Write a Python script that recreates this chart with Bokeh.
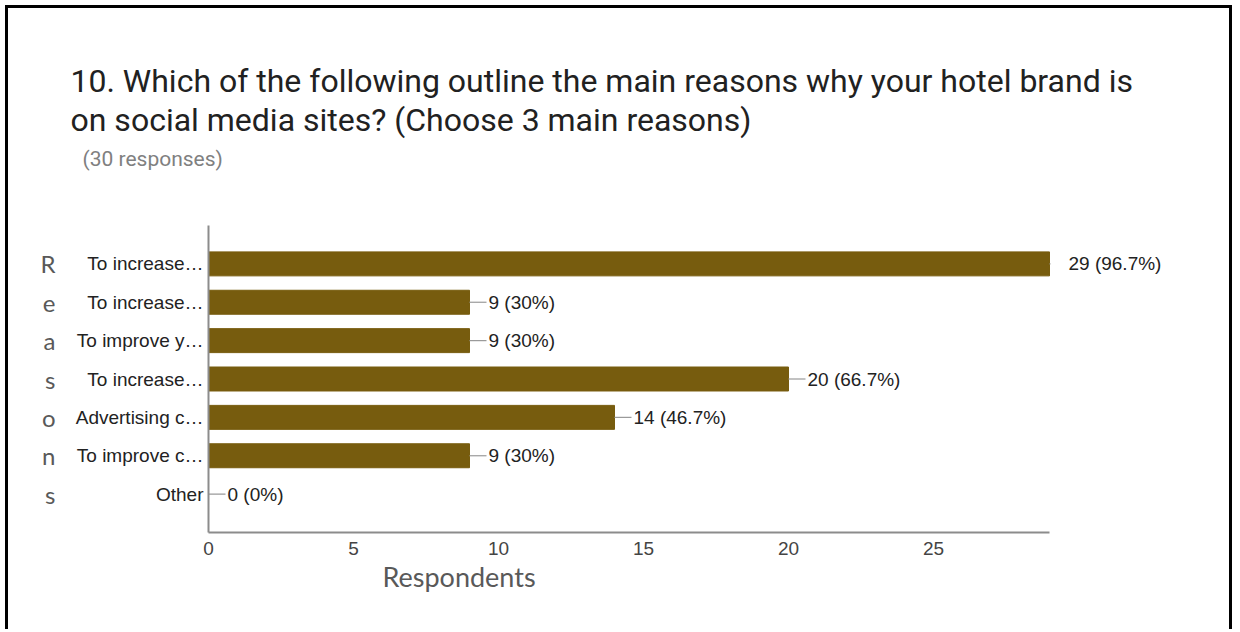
from bokeh.plotting import figure
from bokeh.models import (ColumnDataSource, LabelSet, FixedTicker, LinearAxis, Title)
from bokeh.core.properties import value
from bokeh.embed import file_html
from bokeh.resources import INLINE

# ---- data ----
categories = ["To increase…", "To increase…", "To improve y…", "To increase…",
              "Advertising c…", "To improve c…", "Other"]
counts = [29, 9, 9, 20, 14, 9, 0]
percents = ["96.7%", "30%", "30%", "66.7%", "46.7%", "30%", "0%"]
x_ticks = [0, 5, 10, 15, 20, 25]
x_axis_max = 29
title_text = ("10. Which of the following outline the main reasons why your hotel brand is\n"
              "on social media sites? (Choose 3 main reasons)")
subtitle = "(30 responses)"
x_title = "Respondents"
y_title = "Reasons"

# canvas offset inside the page (margin + border)
OX, OY = 8, 8
W, H = 1227, 624
FL, FT, FB = 208 - OX, 225 - OY, 532 - OY   # frame edges in canvas px
PX_PER_UNIT = (1049 - 208) / x_axis_max

n = len(categories)
ypos = [n - i for i in range(n)]  # 7..1 top to bottom
labels = [f"{c} ({p})" for c, p in zip(counts, percents)]
lead = [min(17, (x_axis_max - c) * PX_PER_UNIT + 1) for c in counts]

src = ColumnDataSource(dict(y=ypos, count=counts, label=labels, lead=lead))

p = figure(width=W, height=H, output_backend="svg", toolbar_location=None,
           x_range=(0, (W - FL) / PX_PER_UNIT), y_range=(0, n + 1), title=None,
           min_border_left=FL, min_border_right=0,
           min_border_top=FT, min_border_bottom=H - FB)
p.styles = {"margin-left": "5px", "margin-top": "5px",
            "border-left": "3px solid black", "border-top": "3px solid black",
            "border-right": "3px solid black"}
p.outline_line_color = None
p.xgrid.visible = False
p.ygrid.visible = False

bar_color = "#775C0E"
p.hbar(y="y", right="count", left=0, height=0.625, source=src,
       fill_color=bar_color, line_color=bar_color)
p.ray(x="count", y="y", length="lead", length_units="screen", angle=0,
      source=src, line_color="#9a9a9a", line_width=1.2)

p.add_layout(LabelSet(x="count", y="y", text="label", source=src, x_offset=19,
                      text_baseline="middle", text_font=value("Liberation Sans"),
                      text_font_size="19px", text_color="#222222"))

# axes
for ax in (p.xaxis[0], p.yaxis[0]):
    ax.axis_line_color = "#8c8c8c"
    ax.axis_line_width = 2
    ax.major_tick_line_color = None
    ax.minor_tick_line_color = None
    ax.major_tick_out = 0
    ax.major_tick_in = 0
    ax.major_label_text_font = "Liberation Sans"
    ax.major_label_text_font_size = "19px"
p.xaxis.ticker = FixedTicker(ticks=x_ticks)
p.xaxis.bounds = (0, x_axis_max)
p.xaxis.major_label_text_color = "#444444"
p.xaxis.major_label_standoff = 9
p.yaxis.ticker = FixedTicker(ticks=ypos)
p.yaxis.major_label_overrides = {y: c for y, c in zip(ypos, categories)}
p.yaxis.major_label_text_color = "#222222"
p.yaxis.major_label_standoff = 5

# stacked-letter axis title on the far left
letter_axis = LinearAxis(ticker=FixedTicker(ticks=ypos),
                         major_label_overrides={y: ch for y, ch in zip(ypos, y_title)},
                         axis_line_color=None, major_tick_line_color=None,
                         minor_tick_line_color=None, major_tick_out=0, major_tick_in=0,
                         major_label_standoff=17,
                         major_label_text_font="Lato",
                         major_label_text_font_size="24px",
                         major_label_text_color="#595959")
p.add_layout(letter_axis, "left")

# titles (stacked outward from the frame); first one is a blank spacer
p.add_layout(Title(text=" ", text_font_size="10px", standoff=42), "above")
p.add_layout(Title(text=subtitle, align="left", offset=82 - 208,
                   text_font="Roboto", text_font_size="21px", text_font_style="normal",
                   text_color="#808080", standoff=0), "above")
p.add_layout(Title(text=title_text, align="left", offset=70 - 208,
                   text_font="Roboto", text_font_size="32px", text_font_style="normal",
                   text_color="#212121", text_line_height=1.034, standoff=10), "above")
p.add_layout(Title(text=x_title, align="left", offset=382 - 208,
                   text_font="Lato", text_font_size="27px", text_font_style="normal",
                   text_color="#595959", standoff=0), "below")

open("out.html", "w").write(file_html(p, INLINE))
